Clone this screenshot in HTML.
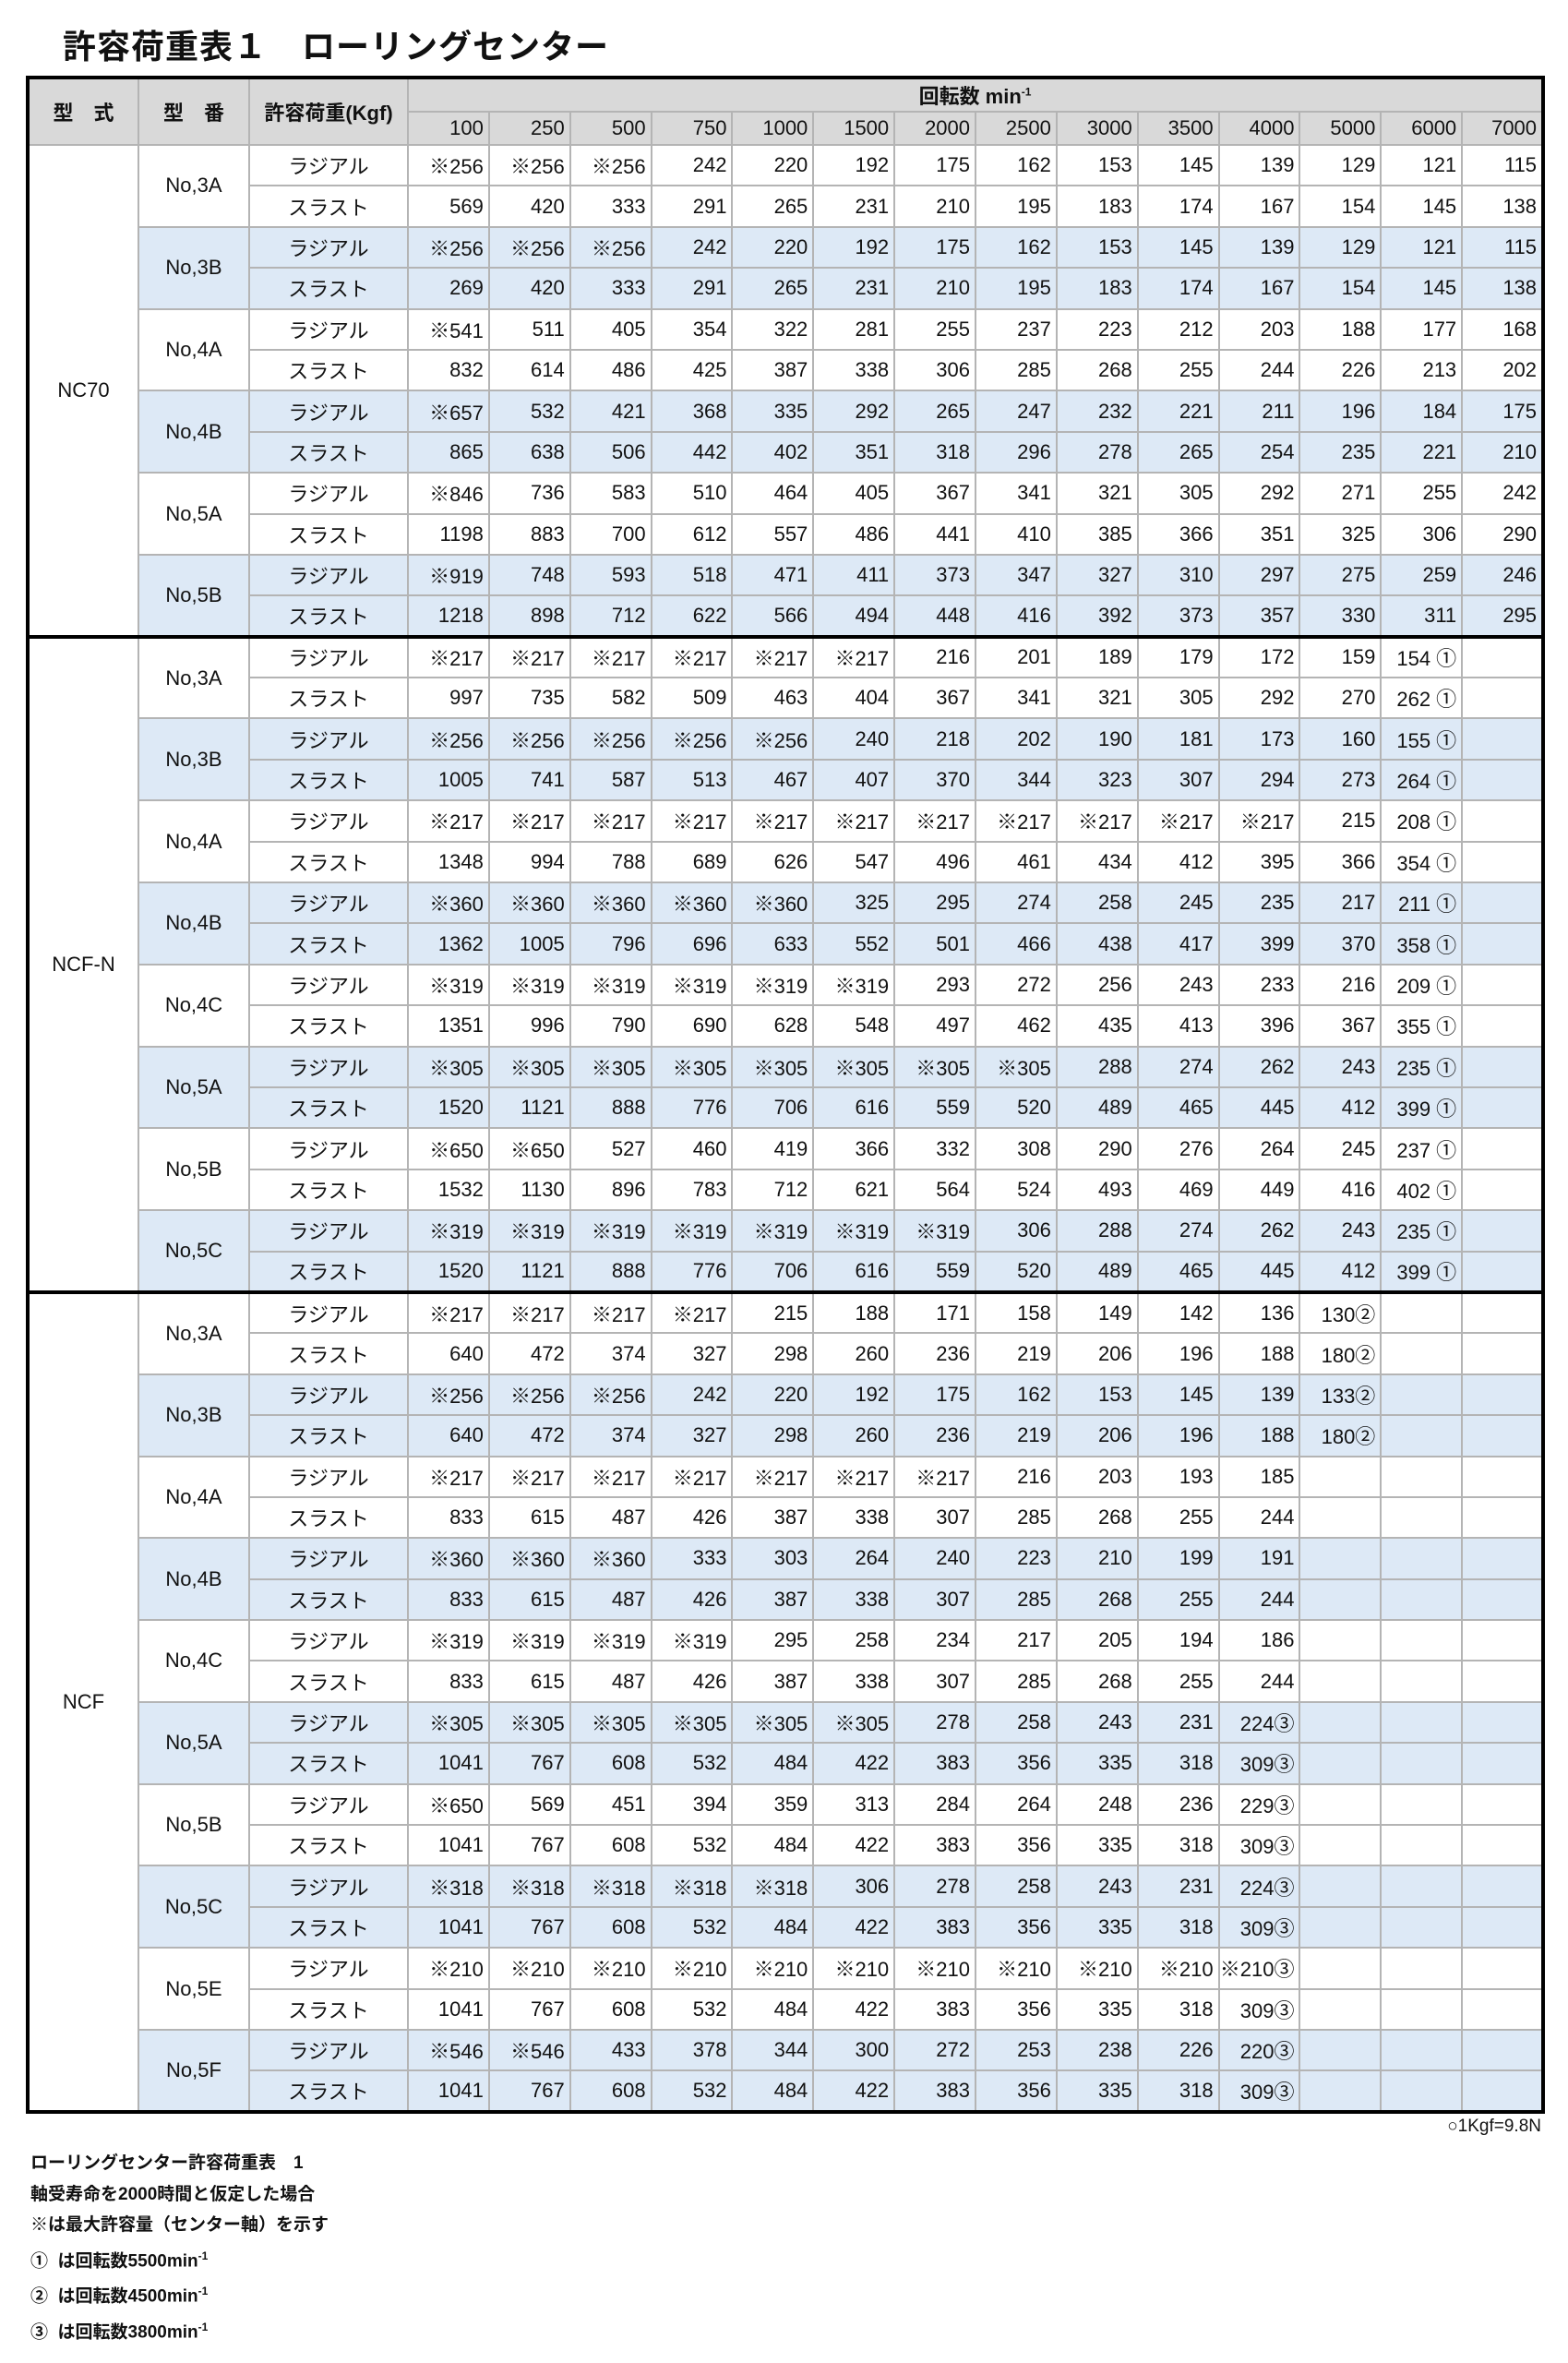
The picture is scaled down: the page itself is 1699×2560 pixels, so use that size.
<!DOCTYPE html>
<html><head><meta charset="utf-8">
<style>
html,body{margin:0;padding:0;background:#fff;}
body{width:1699px;height:2560px;position:relative;overflow:hidden;font-family:"Liberation Sans","Noto Sans CJK JP",sans-serif;color:#111;}
.title{position:absolute;left:68px;top:22px;font-size:36px;font-weight:bold;letter-spacing:1px;}
table{position:absolute;left:28px;top:82px;width:1642px;border-collapse:collapse;table-layout:fixed;border:4px solid #000;}
td,th{border:2px solid #b4b4b4;font-size:22px;padding:0 5px 0 0;text-align:right;font-weight:normal;white-space:nowrap;overflow:visible;}
th{background:#d9d9d9;height:34px;}
th.c{text-align:center;padding:0;font-weight:bold;}
td.c{text-align:center;padding:0;}
tbody tr{height:44.4px;}
tr.b td{background:#dde9f6;}
tr.b td.w{background:#fff;}
tr.s td{border-top:4px solid #000;}
sup{font-size:12px;}
.fn{position:absolute;right:29px;top:2293px;font-size:19px;}
.notes{position:absolute;left:33px;top:2327px;font-size:19px;line-height:33.5px;font-weight:bold;}
</style></head><body>
<div class="title">許容荷重表１　ローリングセンター</div>
<table>
<colgroup><col style="width:120px"><col style="width:120px"><col style="width:172px"><col span="14" style="width:87.86px"></colgroup>
<thead>
<tr><th class="c" rowspan="2">型　式</th><th class="c" rowspan="2">型　番</th><th class="c" rowspan="2">許容荷重(Kgf)</th><th class="c" colspan="14">回転数 min<sup>-1</sup></th></tr>
<tr><th>100</th><th>250</th><th>500</th><th>750</th><th>1000</th><th>1500</th><th>2000</th><th>2500</th><th>3000</th><th>3500</th><th>4000</th><th>5000</th><th>6000</th><th>7000</th></tr>
</thead>
<tbody>
<tr><td class="c w" rowspan="12">NC70</td><td class="c" rowspan="2">No,3A</td><td class="c">ラジアル</td><td>※256</td><td>※256</td><td>※256</td><td>242</td><td>220</td><td>192</td><td>175</td><td>162</td><td>153</td><td>145</td><td>139</td><td>129</td><td>121</td><td>115</td></tr>
<tr><td class="c">スラスト</td><td>569</td><td>420</td><td>333</td><td>291</td><td>265</td><td>231</td><td>210</td><td>195</td><td>183</td><td>174</td><td>167</td><td>154</td><td>145</td><td>138</td></tr>
<tr class="b"><td class="c" rowspan="2">No,3B</td><td class="c">ラジアル</td><td>※256</td><td>※256</td><td>※256</td><td>242</td><td>220</td><td>192</td><td>175</td><td>162</td><td>153</td><td>145</td><td>139</td><td>129</td><td>121</td><td>115</td></tr>
<tr class="b"><td class="c">スラスト</td><td>269</td><td>420</td><td>333</td><td>291</td><td>265</td><td>231</td><td>210</td><td>195</td><td>183</td><td>174</td><td>167</td><td>154</td><td>145</td><td>138</td></tr>
<tr><td class="c" rowspan="2">No,4A</td><td class="c">ラジアル</td><td>※541</td><td>511</td><td>405</td><td>354</td><td>322</td><td>281</td><td>255</td><td>237</td><td>223</td><td>212</td><td>203</td><td>188</td><td>177</td><td>168</td></tr>
<tr><td class="c">スラスト</td><td>832</td><td>614</td><td>486</td><td>425</td><td>387</td><td>338</td><td>306</td><td>285</td><td>268</td><td>255</td><td>244</td><td>226</td><td>213</td><td>202</td></tr>
<tr class="b"><td class="c" rowspan="2">No,4B</td><td class="c">ラジアル</td><td>※657</td><td>532</td><td>421</td><td>368</td><td>335</td><td>292</td><td>265</td><td>247</td><td>232</td><td>221</td><td>211</td><td>196</td><td>184</td><td>175</td></tr>
<tr class="b"><td class="c">スラスト</td><td>865</td><td>638</td><td>506</td><td>442</td><td>402</td><td>351</td><td>318</td><td>296</td><td>278</td><td>265</td><td>254</td><td>235</td><td>221</td><td>210</td></tr>
<tr><td class="c" rowspan="2">No,5A</td><td class="c">ラジアル</td><td>※846</td><td>736</td><td>583</td><td>510</td><td>464</td><td>405</td><td>367</td><td>341</td><td>321</td><td>305</td><td>292</td><td>271</td><td>255</td><td>242</td></tr>
<tr><td class="c">スラスト</td><td>1198</td><td>883</td><td>700</td><td>612</td><td>557</td><td>486</td><td>441</td><td>410</td><td>385</td><td>366</td><td>351</td><td>325</td><td>306</td><td>290</td></tr>
<tr class="b"><td class="c" rowspan="2">No,5B</td><td class="c">ラジアル</td><td>※919</td><td>748</td><td>593</td><td>518</td><td>471</td><td>411</td><td>373</td><td>347</td><td>327</td><td>310</td><td>297</td><td>275</td><td>259</td><td>246</td></tr>
<tr class="b"><td class="c">スラスト</td><td>1218</td><td>898</td><td>712</td><td>622</td><td>566</td><td>494</td><td>448</td><td>416</td><td>392</td><td>373</td><td>357</td><td>330</td><td>311</td><td>295</td></tr>

<tr class="s"><td class="c w" rowspan="16">NCF-N</td><td class="c" rowspan="2">No,3A</td><td class="c">ラジアル</td><td>※217</td><td>※217</td><td>※217</td><td>※217</td><td>※217</td><td>※217</td><td>216</td><td>201</td><td>189</td><td>179</td><td>172</td><td>159</td><td>154 ①</td><td></td></tr>
<tr><td class="c">スラスト</td><td>997</td><td>735</td><td>582</td><td>509</td><td>463</td><td>404</td><td>367</td><td>341</td><td>321</td><td>305</td><td>292</td><td>270</td><td>262 ①</td><td></td></tr>
<tr class="b"><td class="c" rowspan="2">No,3B</td><td class="c">ラジアル</td><td>※256</td><td>※256</td><td>※256</td><td>※256</td><td>※256</td><td>240</td><td>218</td><td>202</td><td>190</td><td>181</td><td>173</td><td>160</td><td>155 ①</td><td></td></tr>
<tr class="b"><td class="c">スラスト</td><td>1005</td><td>741</td><td>587</td><td>513</td><td>467</td><td>407</td><td>370</td><td>344</td><td>323</td><td>307</td><td>294</td><td>273</td><td>264 ①</td><td></td></tr>
<tr><td class="c" rowspan="2">No,4A</td><td class="c">ラジアル</td><td>※217</td><td>※217</td><td>※217</td><td>※217</td><td>※217</td><td>※217</td><td>※217</td><td>※217</td><td>※217</td><td>※217</td><td>※217</td><td>215</td><td>208 ①</td><td></td></tr>
<tr><td class="c">スラスト</td><td>1348</td><td>994</td><td>788</td><td>689</td><td>626</td><td>547</td><td>496</td><td>461</td><td>434</td><td>412</td><td>395</td><td>366</td><td>354 ①</td><td></td></tr>
<tr class="b"><td class="c" rowspan="2">No,4B</td><td class="c">ラジアル</td><td>※360</td><td>※360</td><td>※360</td><td>※360</td><td>※360</td><td>325</td><td>295</td><td>274</td><td>258</td><td>245</td><td>235</td><td>217</td><td>211 ①</td><td></td></tr>
<tr class="b"><td class="c">スラスト</td><td>1362</td><td>1005</td><td>796</td><td>696</td><td>633</td><td>552</td><td>501</td><td>466</td><td>438</td><td>417</td><td>399</td><td>370</td><td>358 ①</td><td></td></tr>
<tr><td class="c" rowspan="2">No,4C</td><td class="c">ラジアル</td><td>※319</td><td>※319</td><td>※319</td><td>※319</td><td>※319</td><td>※319</td><td>293</td><td>272</td><td>256</td><td>243</td><td>233</td><td>216</td><td>209 ①</td><td></td></tr>
<tr><td class="c">スラスト</td><td>1351</td><td>996</td><td>790</td><td>690</td><td>628</td><td>548</td><td>497</td><td>462</td><td>435</td><td>413</td><td>396</td><td>367</td><td>355 ①</td><td></td></tr>
<tr class="b"><td class="c" rowspan="2">No,5A</td><td class="c">ラジアル</td><td>※305</td><td>※305</td><td>※305</td><td>※305</td><td>※305</td><td>※305</td><td>※305</td><td>※305</td><td>288</td><td>274</td><td>262</td><td>243</td><td>235 ①</td><td></td></tr>
<tr class="b"><td class="c">スラスト</td><td>1520</td><td>1121</td><td>888</td><td>776</td><td>706</td><td>616</td><td>559</td><td>520</td><td>489</td><td>465</td><td>445</td><td>412</td><td>399 ①</td><td></td></tr>
<tr><td class="c" rowspan="2">No,5B</td><td class="c">ラジアル</td><td>※650</td><td>※650</td><td>527</td><td>460</td><td>419</td><td>366</td><td>332</td><td>308</td><td>290</td><td>276</td><td>264</td><td>245</td><td>237 ①</td><td></td></tr>
<tr><td class="c">スラスト</td><td>1532</td><td>1130</td><td>896</td><td>783</td><td>712</td><td>621</td><td>564</td><td>524</td><td>493</td><td>469</td><td>449</td><td>416</td><td>402 ①</td><td></td></tr>
<tr class="b"><td class="c" rowspan="2">No,5C</td><td class="c">ラジアル</td><td>※319</td><td>※319</td><td>※319</td><td>※319</td><td>※319</td><td>※319</td><td>※319</td><td>306</td><td>288</td><td>274</td><td>262</td><td>243</td><td>235 ①</td><td></td></tr>
<tr class="b"><td class="c">スラスト</td><td>1520</td><td>1121</td><td>888</td><td>776</td><td>706</td><td>616</td><td>559</td><td>520</td><td>489</td><td>465</td><td>445</td><td>412</td><td>399 ①</td><td></td></tr>

<tr class="s"><td class="c w" rowspan="20">NCF</td><td class="c" rowspan="2">No,3A</td><td class="c">ラジアル</td><td>※217</td><td>※217</td><td>※217</td><td>※217</td><td>215</td><td>188</td><td>171</td><td>158</td><td>149</td><td>142</td><td>136</td><td>130②</td><td></td><td></td></tr>
<tr><td class="c">スラスト</td><td>640</td><td>472</td><td>374</td><td>327</td><td>298</td><td>260</td><td>236</td><td>219</td><td>206</td><td>196</td><td>188</td><td>180②</td><td></td><td></td></tr>
<tr class="b"><td class="c" rowspan="2">No,3B</td><td class="c">ラジアル</td><td>※256</td><td>※256</td><td>※256</td><td>242</td><td>220</td><td>192</td><td>175</td><td>162</td><td>153</td><td>145</td><td>139</td><td>133②</td><td></td><td></td></tr>
<tr class="b"><td class="c">スラスト</td><td>640</td><td>472</td><td>374</td><td>327</td><td>298</td><td>260</td><td>236</td><td>219</td><td>206</td><td>196</td><td>188</td><td>180②</td><td></td><td></td></tr>
<tr><td class="c" rowspan="2">No,4A</td><td class="c">ラジアル</td><td>※217</td><td>※217</td><td>※217</td><td>※217</td><td>※217</td><td>※217</td><td>※217</td><td>216</td><td>203</td><td>193</td><td>185</td><td></td><td></td><td></td></tr>
<tr><td class="c">スラスト</td><td>833</td><td>615</td><td>487</td><td>426</td><td>387</td><td>338</td><td>307</td><td>285</td><td>268</td><td>255</td><td>244</td><td></td><td></td><td></td></tr>
<tr class="b"><td class="c" rowspan="2">No,4B</td><td class="c">ラジアル</td><td>※360</td><td>※360</td><td>※360</td><td>333</td><td>303</td><td>264</td><td>240</td><td>223</td><td>210</td><td>199</td><td>191</td><td></td><td></td><td></td></tr>
<tr class="b"><td class="c">スラスト</td><td>833</td><td>615</td><td>487</td><td>426</td><td>387</td><td>338</td><td>307</td><td>285</td><td>268</td><td>255</td><td>244</td><td></td><td></td><td></td></tr>
<tr><td class="c" rowspan="2">No,4C</td><td class="c">ラジアル</td><td>※319</td><td>※319</td><td>※319</td><td>※319</td><td>295</td><td>258</td><td>234</td><td>217</td><td>205</td><td>194</td><td>186</td><td></td><td></td><td></td></tr>
<tr><td class="c">スラスト</td><td>833</td><td>615</td><td>487</td><td>426</td><td>387</td><td>338</td><td>307</td><td>285</td><td>268</td><td>255</td><td>244</td><td></td><td></td><td></td></tr>
<tr class="b"><td class="c" rowspan="2">No,5A</td><td class="c">ラジアル</td><td>※305</td><td>※305</td><td>※305</td><td>※305</td><td>※305</td><td>※305</td><td>278</td><td>258</td><td>243</td><td>231</td><td>224③</td><td></td><td></td><td></td></tr>
<tr class="b"><td class="c">スラスト</td><td>1041</td><td>767</td><td>608</td><td>532</td><td>484</td><td>422</td><td>383</td><td>356</td><td>335</td><td>318</td><td>309③</td><td></td><td></td><td></td></tr>
<tr><td class="c" rowspan="2">No,5B</td><td class="c">ラジアル</td><td>※650</td><td>569</td><td>451</td><td>394</td><td>359</td><td>313</td><td>284</td><td>264</td><td>248</td><td>236</td><td>229③</td><td></td><td></td><td></td></tr>
<tr><td class="c">スラスト</td><td>1041</td><td>767</td><td>608</td><td>532</td><td>484</td><td>422</td><td>383</td><td>356</td><td>335</td><td>318</td><td>309③</td><td></td><td></td><td></td></tr>
<tr class="b"><td class="c" rowspan="2">No,5C</td><td class="c">ラジアル</td><td>※318</td><td>※318</td><td>※318</td><td>※318</td><td>※318</td><td>306</td><td>278</td><td>258</td><td>243</td><td>231</td><td>224③</td><td></td><td></td><td></td></tr>
<tr class="b"><td class="c">スラスト</td><td>1041</td><td>767</td><td>608</td><td>532</td><td>484</td><td>422</td><td>383</td><td>356</td><td>335</td><td>318</td><td>309③</td><td></td><td></td><td></td></tr>
<tr><td class="c" rowspan="2">No,5E</td><td class="c">ラジアル</td><td>※210</td><td>※210</td><td>※210</td><td>※210</td><td>※210</td><td>※210</td><td>※210</td><td>※210</td><td>※210</td><td>※210</td><td>※210③</td><td></td><td></td><td></td></tr>
<tr><td class="c">スラスト</td><td>1041</td><td>767</td><td>608</td><td>532</td><td>484</td><td>422</td><td>383</td><td>356</td><td>335</td><td>318</td><td>309③</td><td></td><td></td><td></td></tr>
<tr class="b"><td class="c" rowspan="2">No,5F</td><td class="c">ラジアル</td><td>※546</td><td>※546</td><td>433</td><td>378</td><td>344</td><td>300</td><td>272</td><td>253</td><td>238</td><td>226</td><td>220③</td><td></td><td></td><td></td></tr>
<tr class="b"><td class="c">スラスト</td><td>1041</td><td>767</td><td>608</td><td>532</td><td>484</td><td>422</td><td>383</td><td>356</td><td>335</td><td>318</td><td>309③</td><td></td><td></td><td></td></tr>
</tbody>
</table>
<div class="fn">○1Kgf=9.8N</div>
<div class="notes">
ローリングセンター許容荷重表　1<br>
軸受寿命を2000時間と仮定した場合<br>
※は最大許容量（センター軸）を示す<br>
①&nbsp; は回転数5500min<sup>-1</sup><br>
②&nbsp; は回転数4500min<sup>-1</sup><br>
③&nbsp; は回転数3800min<sup>-1</sup>
</div>
</body></html>
